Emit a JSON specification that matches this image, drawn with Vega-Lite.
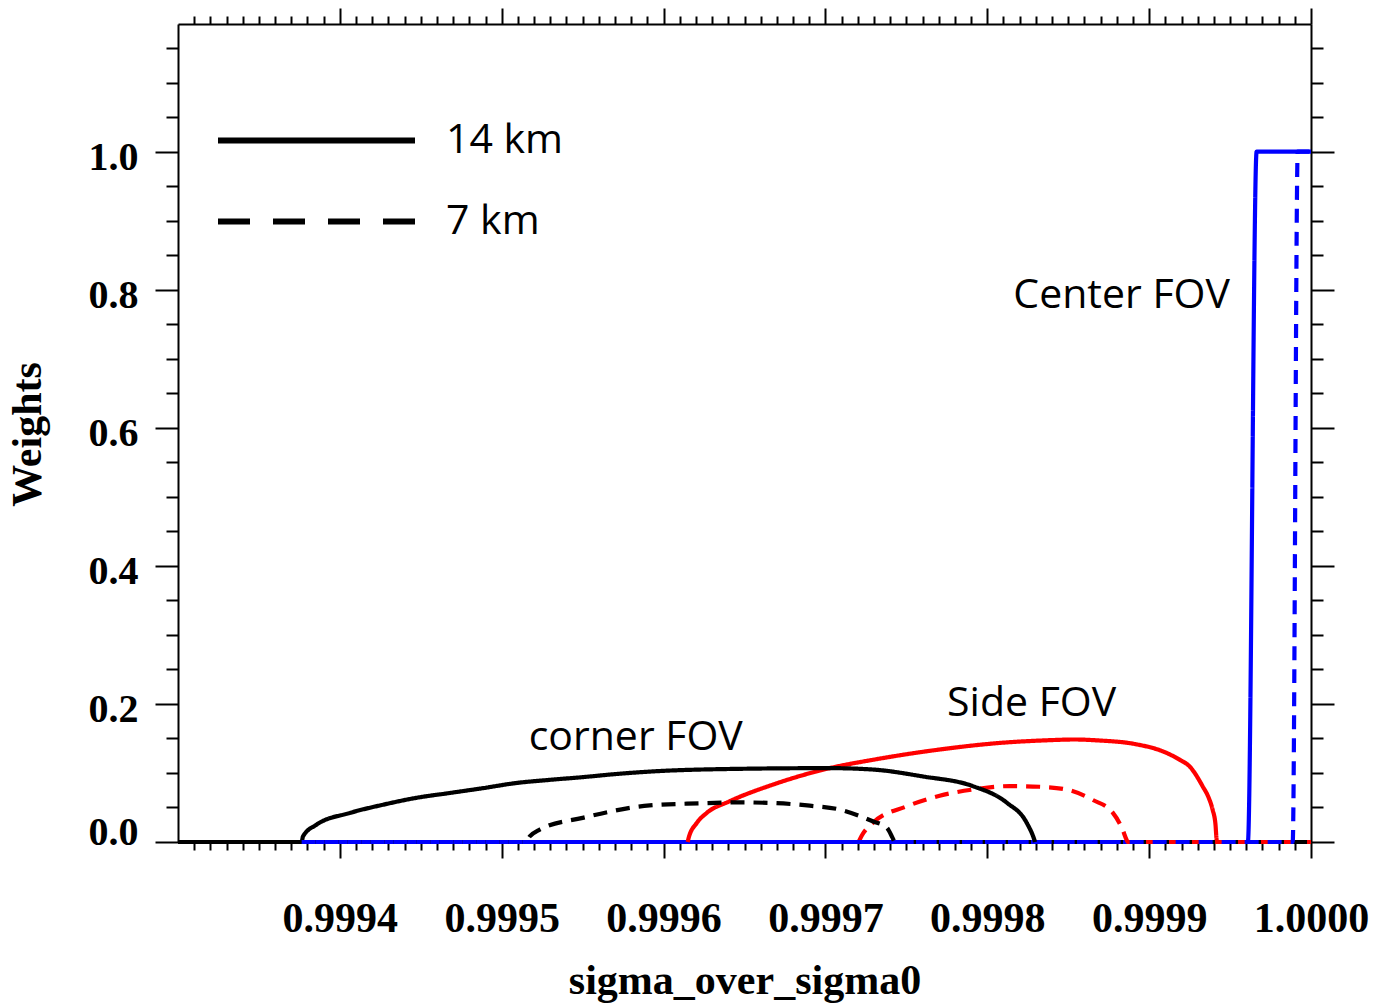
{
  "$schema": "https://vega.github.io/schema/vega-lite/v6.json",
  "width": 1133,
  "height": 818,
  "autosize": {"type": "none"},
  "padding": {"left": 178, "top": 24, "right": 64, "bottom": 162},
  "background": "white",
  "config": {
    "view": {"stroke": null},
    "axis": {"grid": false, "tickColor": "black", "domainColor": "black", "tickWidth": 2, "domainWidth": 2, "labelColor": "black", "titleColor": "black"}
  },
  "datasets": {
    "lines": [
      {"fov": "center", "res": "14 km", "x": 0.9993, "w": 0},
      {"fov": "center", "res": "14 km", "x": 0.999961, "w": 0},
      {"fov": "center", "res": "14 km", "x": 0.9999664, "w": 1.0},
      {"fov": "center", "res": "14 km", "x": 1.0, "w": 1.0},

      {"fov": "side", "res": "14 km", "x": 0.9996149, "w": 0},
      {"fov": "side", "res": "14 km", "x": 0.9996155, "w": 0.006},
      {"fov": "side", "res": "14 km", "x": 0.9996205, "w": 0.0275},
      {"fov": "side", "res": "14 km", "x": 0.9996266, "w": 0.042},
      {"fov": "side", "res": "14 km", "x": 0.9996408, "w": 0.059},
      {"fov": "side", "res": "14 km", "x": 0.9996674, "w": 0.083},
      {"fov": "side", "res": "14 km", "x": 0.9997026, "w": 0.107},
      {"fov": "side", "res": "14 km", "x": 0.9997292, "w": 0.119},
      {"fov": "side", "res": "14 km", "x": 0.9997706, "w": 0.134},
      {"fov": "side", "res": "14 km", "x": 0.9998077, "w": 0.1435},
      {"fov": "side", "res": "14 km", "x": 0.9998385, "w": 0.1475},
      {"fov": "side", "res": "14 km", "x": 0.999854, "w": 0.1485},
      {"fov": "side", "res": "14 km", "x": 0.9998694, "w": 0.147},
      {"fov": "side", "res": "14 km", "x": 0.9998898, "w": 0.1425},
      {"fov": "side", "res": "14 km", "x": 0.9999108, "w": 0.129},
      {"fov": "side", "res": "14 km", "x": 0.999919, "w": 0.119},
      {"fov": "side", "res": "14 km", "x": 0.999925, "w": 0.1095},
      {"fov": "side", "res": "14 km", "x": 0.9999331, "w": 0.0805},
      {"fov": "side", "res": "14 km", "x": 0.9999368, "w": 0.064},
      {"fov": "side", "res": "14 km", "x": 0.9999392, "w": 0.047},
      {"fov": "side", "res": "14 km", "x": 0.999941, "w": 0.025},
      {"fov": "side", "res": "14 km", "x": 0.9999415, "w": 0.008},
      {"fov": "side", "res": "14 km", "x": 0.9999418, "w": 0},

      {"fov": "side", "res": "7 km", "x": 0.9997205, "w": 0},
      {"fov": "side", "res": "7 km", "x": 0.9997224, "w": 0.009},
      {"fov": "side", "res": "7 km", "x": 0.9997292, "w": 0.0275},
      {"fov": "side", "res": "7 km", "x": 0.9997502, "w": 0.0516},
      {"fov": "side", "res": "7 km", "x": 0.9997706, "w": 0.067},
      {"fov": "side", "res": "7 km", "x": 0.999791, "w": 0.076},
      {"fov": "side", "res": "7 km", "x": 0.9998138, "w": 0.081},
      {"fov": "side", "res": "7 km", "x": 0.9998324, "w": 0.08},
      {"fov": "side", "res": "7 km", "x": 0.999849, "w": 0.076},
      {"fov": "side", "res": "7 km", "x": 0.9998651, "w": 0.061},
      {"fov": "side", "res": "7 km", "x": 0.9998775, "w": 0.0425},
      {"fov": "side", "res": "7 km", "x": 0.9998836, "w": 0.018},
      {"fov": "side", "res": "7 km", "x": 0.9998861, "w": 0.003},
      {"fov": "side", "res": "7 km", "x": 0.9998868, "w": 0},
      {"fov": "side", "res": "7 km", "x": 1.0, "w": 0},

      {"fov": "corner", "res": "14 km", "x": 0.9993, "w": 0},
      {"fov": "corner", "res": "14 km", "x": 0.9993764, "w": 0},
      {"fov": "corner", "res": "14 km", "x": 0.9993772, "w": 0.008},
      {"fov": "corner", "res": "14 km", "x": 0.9993855, "w": 0.025},
      {"fov": "corner", "res": "14 km", "x": 0.9994061, "w": 0.042},
      {"fov": "corner", "res": "14 km", "x": 0.9994267, "w": 0.054},
      {"fov": "corner", "res": "14 km", "x": 0.9994473, "w": 0.064},
      {"fov": "corner", "res": "14 km", "x": 0.9994679, "w": 0.071},
      {"fov": "corner", "res": "14 km", "x": 0.9994884, "w": 0.078},
      {"fov": "corner", "res": "14 km", "x": 0.9995091, "w": 0.0855},
      {"fov": "corner", "res": "14 km", "x": 0.9995296, "w": 0.09},
      {"fov": "corner", "res": "14 km", "x": 0.9995502, "w": 0.094},
      {"fov": "corner", "res": "14 km", "x": 0.9995708, "w": 0.0985},
      {"fov": "corner", "res": "14 km", "x": 0.9995914, "w": 0.102},
      {"fov": "corner", "res": "14 km", "x": 0.999647, "w": 0.106},
      {"fov": "corner", "res": "14 km", "x": 0.9997026, "w": 0.107},
      {"fov": "corner", "res": "14 km", "x": 0.9997292, "w": 0.105},
      {"fov": "corner", "res": "14 km", "x": 0.9997601, "w": 0.095},
      {"fov": "corner", "res": "14 km", "x": 0.999791, "w": 0.081},
      {"fov": "corner", "res": "14 km", "x": 0.999812, "w": 0.057},
      {"fov": "corner", "res": "14 km", "x": 0.9998243, "w": 0.028},
      {"fov": "corner", "res": "14 km", "x": 0.9998291, "w": 0.003},
      {"fov": "corner", "res": "14 km", "x": 0.9998295, "w": 0},

      {"fov": "corner", "res": "7 km", "x": 0.9993764, "w": 0},
      {"fov": "corner", "res": "7 km", "x": 0.9995148, "w": 0},
      {"fov": "corner", "res": "7 km", "x": 0.9995173, "w": 0.008},
      {"fov": "corner", "res": "7 km", "x": 0.9995235, "w": 0.018},
      {"fov": "corner", "res": "7 km", "x": 0.99955, "w": 0.035},
      {"fov": "corner", "res": "7 km", "x": 0.9995914, "w": 0.053},
      {"fov": "corner", "res": "7 km", "x": 0.9996223, "w": 0.056},
      {"fov": "corner", "res": "7 km", "x": 0.999647, "w": 0.0574},
      {"fov": "corner", "res": "7 km", "x": 0.9996674, "w": 0.0565},
      {"fov": "corner", "res": "7 km", "x": 0.9996903, "w": 0.0526},
      {"fov": "corner", "res": "7 km", "x": 0.9997088, "w": 0.047},
      {"fov": "corner", "res": "7 km", "x": 0.9997292, "w": 0.03},
      {"fov": "corner", "res": "7 km", "x": 0.9997378, "w": 0.021},
      {"fov": "corner", "res": "7 km", "x": 0.9997415, "w": 0.006},
      {"fov": "corner", "res": "7 km", "x": 0.9997428, "w": 0},
      {"fov": "corner", "res": "7 km", "x": 1.0, "w": 0},

      {"fov": "center", "res": "7 km", "x": 0.9993764, "w": 0},
      {"fov": "center", "res": "7 km", "x": 0.9999887, "w": 0},
      {"fov": "center", "res": "7 km", "x": 0.9999918, "w": 1.0},
      {"fov": "center", "res": "7 km", "x": 1.0, "w": 1.0}
    ],
    "notes": [
      {"label": "Center FOV", "x": 0.999883, "w": 0.7729},
      {"label": "Side FOV", "x": 0.9998274, "w": 0.183},
      {"label": "corner FOV", "x": 0.9995828, "w": 0.1327}
    ]
  },
  "resolve": {"axis": {"x": "independent", "y": "independent"}, "scale": {"strokeDash": "independent"}},
  "layer": [
    {
      "data": {"name": "lines"},
      "mark": {"type": "line", "strokeWidth": 4.2, "interpolate": "monotone"},
      "encoding": {
        "x": {
          "field": "x", "type": "quantitative",
          "scale": {"domain": [0.9993, 1.0], "zero": false, "nice": false},
          "axis": {
            "orient": "bottom",
            "values": [0.9994, 0.9995, 0.9996, 0.9997, 0.9998, 0.9999, 1.0],
            "format": ".4f", "tickSize": 16, "labelPadding": 40,
            "labelFont": "Liberation Serif", "labelFontWeight": "bold", "labelFontSize": 42,
            "labelOverlap": false, "labelFlush": false, "labelBound": false,
            "title": "sigma_over_sigma0",
            "titleFont": "Liberation Serif", "titleFontWeight": "bold", "titleFontSize": 42,
            "titleX": 566.5, "titleY": 151, "titleAlign": "center", "titleBaseline": "alphabetic"
          }
        },
        "y": {
          "field": "w", "type": "quantitative",
          "scale": {"domain": [0, 1.185], "zero": false, "nice": false},
          "axis": {
            "orient": "left",
            "values": [0, 0.2, 0.4, 0.6, 0.8, 1.0],
            "format": ".1f", "tickSize": 23, "labelPadding": 17,
            "labelOffset": {"condition": {"test": "datum.value === 0", "value": -10}, "value": 6},
            "labelFont": "Liberation Serif", "labelFontWeight": "bold", "labelFontSize": 40,
            "labelOverlap": false, "labelFlush": false, "labelBound": false,
            "title": "Weights",
            "titleFont": "Liberation Serif", "titleFontWeight": "bold", "titleFontSize": 42,
            "titleAngle": -90, "titleX": -151, "titleY": 410, "titleAlign": "center", "titleBaseline": "middle"
          }
        },
        "color": {
          "field": "fov", "type": "nominal",
          "scale": {"domain": ["corner", "side", "center"], "range": ["#000000", "#ff0000", "#0000ff"]},
          "legend": null
        },
        "strokeDash": {
          "field": "res", "type": "nominal",
          "scale": {"domain": ["14 km", "7 km"], "range": [[1, 0], [14, 9]]},
          "legend": null
        }
      }
    },
    {
      "data": {"name": "lines"},
      "mark": {"type": "rule", "opacity": 0},
      "encoding": {
        "x": {"field": "x", "type": "quantitative", "scale": {"domain": [0.9993, 1.0], "zero": false, "nice": false}, "axis": null},
        "strokeDash": {
          "field": "res", "type": "nominal",
          "scale": {"domain": ["14 km", "7 km"], "range": [[1, 0], [32, 23]]},
          "legend": {
            "orient": "none", "legendX": 118, "legendY": 96, "title": null, "padding": 0,
            "symbolType": "M-19.7,0H19.7", "symbolSize": 100, "symbolStrokeWidth": 6,
            "symbolStrokeColor": "black", "symbolFillColor": "transparent", "symbolOpacity": 1,
            "labelFont": "Open Sans", "labelFontSize": 41, "labelColor": "black",
            "labelOffset": 109, "rowPadding": 39
          }
        }
      }
    },
    {
      "data": {"name": "notes"},
      "mark": {"type": "text", "font": "Open Sans", "fontSize": 41, "align": "center", "baseline": "alphabetic", "color": "black"},
      "encoding": {
        "x": {
          "field": "x", "type": "quantitative",
          "scale": {"domain": [0.9993, 1.0], "zero": false, "nice": false},
          "axis": {
            "orient": "bottom", "domain": false, "labels": false, "title": null, "tickSize": 8,
            "values": [0.99931, 0.99932, 0.99933, 0.99934, 0.99935, 0.99936, 0.99937, 0.99938, 0.99939,
                       0.99941, 0.99942, 0.99943, 0.99944, 0.99945, 0.99946, 0.99947, 0.99948, 0.99949,
                       0.99951, 0.99952, 0.99953, 0.99954, 0.99955, 0.99956, 0.99957, 0.99958, 0.99959,
                       0.99961, 0.99962, 0.99963, 0.99964, 0.99965, 0.99966, 0.99967, 0.99968, 0.99969,
                       0.99971, 0.99972, 0.99973, 0.99974, 0.99975, 0.99976, 0.99977, 0.99978, 0.99979,
                       0.99981, 0.99982, 0.99983, 0.99984, 0.99985, 0.99986, 0.99987, 0.99988, 0.99989,
                       0.99991, 0.99992, 0.99993, 0.99994, 0.99995, 0.99996, 0.99997, 0.99998, 0.99999]
          }
        },
        "y": {
          "field": "w", "type": "quantitative",
          "scale": {"domain": [0, 1.185], "zero": false, "nice": false},
          "axis": {
            "orient": "left", "domain": false, "labels": false, "title": null, "tickSize": 12,
            "values": [0.05, 0.1, 0.15, 0.25, 0.3, 0.35, 0.45, 0.5, 0.55, 0.65, 0.7, 0.75, 0.85, 0.9, 0.95, 1.05, 1.1, 1.15]
          }
        },
        "text": {"field": "label", "type": "nominal"}
      }
    },
    {
      "data": {"name": "notes"},
      "mark": {"type": "point", "opacity": 0},
      "encoding": {
        "x": {
          "field": "x", "type": "quantitative",
          "scale": {"domain": [0.9993, 1.0], "zero": false, "nice": false},
          "axis": {
            "orient": "top", "labels": false, "title": null, "tickSize": 16,
            "values": [0.9994, 0.9995, 0.9996, 0.9997, 0.9998, 0.9999, 1.0]
          }
        },
        "y": {
          "field": "w", "type": "quantitative",
          "scale": {"domain": [0, 1.185], "zero": false, "nice": false},
          "axis": {
            "orient": "right", "labels": false, "title": null, "tickSize": 23,
            "values": [0, 0.2, 0.4, 0.6, 0.8, 1.0]
          }
        }
      }
    },
    {
      "data": {"name": "notes"},
      "mark": {"type": "point", "opacity": 0},
      "encoding": {
        "x": {
          "field": "x", "type": "quantitative",
          "scale": {"domain": [0.9993, 1.0], "zero": false, "nice": false},
          "axis": {
            "orient": "top", "domain": false, "labels": false, "title": null, "tickSize": 8,
            "values": [0.99931, 0.99932, 0.99933, 0.99934, 0.99935, 0.99936, 0.99937, 0.99938, 0.99939,
                       0.99941, 0.99942, 0.99943, 0.99944, 0.99945, 0.99946, 0.99947, 0.99948, 0.99949,
                       0.99951, 0.99952, 0.99953, 0.99954, 0.99955, 0.99956, 0.99957, 0.99958, 0.99959,
                       0.99961, 0.99962, 0.99963, 0.99964, 0.99965, 0.99966, 0.99967, 0.99968, 0.99969,
                       0.99971, 0.99972, 0.99973, 0.99974, 0.99975, 0.99976, 0.99977, 0.99978, 0.99979,
                       0.99981, 0.99982, 0.99983, 0.99984, 0.99985, 0.99986, 0.99987, 0.99988, 0.99989,
                       0.99991, 0.99992, 0.99993, 0.99994, 0.99995, 0.99996, 0.99997, 0.99998, 0.99999]
          }
        },
        "y": {
          "field": "w", "type": "quantitative",
          "scale": {"domain": [0, 1.185], "zero": false, "nice": false},
          "axis": {
            "orient": "right", "domain": false, "labels": false, "title": null, "tickSize": 12,
            "values": [0.05, 0.1, 0.15, 0.25, 0.3, 0.35, 0.45, 0.5, 0.55, 0.65, 0.7, 0.75, 0.85, 0.9, 0.95, 1.05, 1.1, 1.15]
          }
        }
      }
    }
  ]
}
